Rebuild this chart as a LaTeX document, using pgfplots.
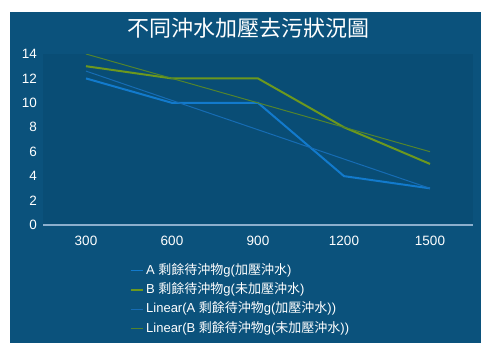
\documentclass[border=0pt]{standalone}
\usepackage{pgfplots}
\pgfplotsset{compat=1.18}
\usepackage{fontspec}
\setmainfont{Liberation Sans}
\newfontfamily\cjk{Noto Sans CJK TC}
\definecolor{bgc}{RGB}{11,82,124}
\definecolor{plotc}{RGB}{9,77,117}
\definecolor{cA}{RGB}{18,122,204}
\definecolor{cAt}{RGB}{22,108,180}
\definecolor{cB}{RGB}{108,152,30}
\definecolor{cBt}{RGB}{82,132,45}
\definecolor{axc}{RGB}{140,175,205}
\begin{document}
\begin{tikzpicture}[x=1pt,y=1pt]
\useasboundingbox (0,0) rectangle (481,343);
\fill[white] (0,0) rectangle (481,343);
\fill[bgc] (10,0) rectangle (481,331);
\node[text=white, font=\cjk\fontsize{22}{25}\selectfont] at (248,315) {不同沖水加壓去污狀況圖};
\begin{axis}[
  at={(43pt,118pt)}, anchor=south west,
  scale only axis, width=430pt, height=171pt,
  xmin=-0.5, xmax=4.5, ymin=0, ymax=14,
  axis lines=left,
  x axis line style={-, draw=axc, line width=1.2pt},
  y axis line style={draw=none},
  axis background/.style={fill=plotc},
  major tick length=0pt, tick style={draw=none},
  xtick={0,1,2,3,4},
  xticklabels={300,600,900,1200,1500},
  ytick={0,2,4,6,8,10,12,14},
  /pgf/number format/assume math mode=true,
  ticklabel style={text=white, font=\fontsize{13.5}{15}\selectfont},
  xticklabel style={anchor=center, inner sep=0pt, yshift=-16pt},
  yticklabel style={anchor=east, inner sep=0pt, xshift=-6pt},
  legend cell align=left,
  legend style={at={(0.2023,-0.228)}, anchor=north west, draw=none, fill=none,
    text=white, font=\fontsize{13}{15}\selectfont, inner sep=0pt,
    nodes={inner sep=0pt, text height=10pt, text depth=3pt},
    row sep=6.3pt, column sep=2.5pt},
  legend image code/.code={\draw[#1, line width=1.5pt] (0pt,0pt) -- (12pt,0pt);},
]
\addplot[cA, line width=2pt] coordinates {(0,12) (1,10) (2,10) (3,4) (4,3)};
\addlegendentry{A {\cjk 剩餘待沖物}g({\cjk 加壓沖水})}
\addplot[cB, line width=2pt] coordinates {(0,13) (1,12) (2,12) (3,8) (4,5)};
\addlegendentry{B {\cjk 剩餘待沖物}g({\cjk 未加壓沖水})}
\addplot[cAt, line width=1pt] coordinates {(0,12.6) (4,3)};
\addlegendentry{Linear(A {\cjk 剩餘待沖物}g({\cjk 加壓沖水}))}
\addplot[cBt, line width=1pt] coordinates {(0,14) (4,6)};
\addlegendentry{Linear(B {\cjk 剩餘待沖物}g({\cjk 未加壓沖水}))}
\end{axis}
\end{tikzpicture}
\end{document}
